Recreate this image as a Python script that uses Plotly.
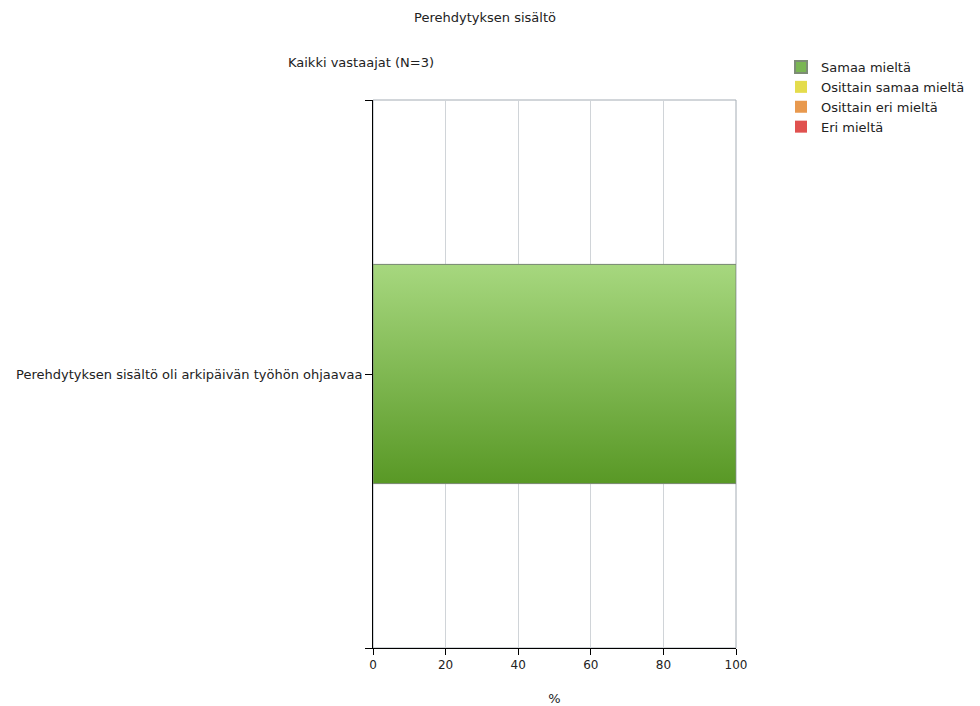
import plotly.graph_objects as go

categories = ["Perehdytyksen sisältö oli arkipäivän työhön ohjaavaa"]
series_names = ["Samaa mieltä", "Osittain samaa mieltä", "Osittain eri mieltä", "Eri mieltä"]
series_values = {
    "Samaa mieltä": [100],
    "Osittain samaa mieltä": [0],
    "Osittain eri mieltä": [0],
    "Eri mieltä": [0],
}
series_colors = ["#7ab653", "#e4dc4c", "#e8994e", "#e0514f"]
x_ticks = [0, 20, 40, 60, 80, 100]

FONT = "Verdana, DejaVu Sans, sans-serif"
bar_half = 0.2

fig = go.Figure()
ypos = list(range(len(categories)))
for name, col in zip(series_names, series_colors):
    vals = series_values[name]
    fig.add_trace(go.Bar(
        name=name, orientation="h", x=vals, y=ypos, width=2 * bar_half,
        marker=dict(color=col, line=dict(color="#7d8c76" if max(vals) > 0 else "rgba(0,0,0,0)", width=1)),
    ))

# gradient overlay for the non-zero segments
for name, col in zip(series_names, series_colors):
    vals = series_values[name]
    for i, v in enumerate(vals):
        if v <= 0:
            continue
        xs = [0, v, v, 0, 0]
        ys = [i - bar_half, i - bar_half, i + bar_half, i + bar_half, i - bar_half]
        fig.add_trace(go.Scatter(
            x=xs, y=ys, mode="lines", fill="toself", showlegend=False, hoverinfo="skip",
            line=dict(color="#7d8c76", width=1),
            fillgradient=dict(type="vertical",
                              colorscale=[[0, "rgba(86,150,34,0.93)"], [1, "rgba(170,218,130,0.93)"]]),
        ))

fig.update_layout(
    width=980, height=706,
    margin=dict(l=373, r=244, t=100, b=58, autoexpand=False),
    paper_bgcolor="white", plot_bgcolor="white",
    barmode="stack",
    font=dict(family=FONT, size=13, color="#222222"),
    title=dict(text="Perehdytyksen sisältö", x=485 / 980, xanchor="center",
               y=1 - 17 / 706, yanchor="middle", font=dict(size=13, family=FONT)),
    legend=dict(x=(781 - 373) / 363, y=(648 - 52) / 548, xanchor="left", yanchor="top",
                traceorder="normal", font=dict(size=13, family=FONT),
                itemsizing="constant", tracegroupgap=0, bgcolor="rgba(0,0,0,0)"),
    annotations=[dict(text="Kaikki vastaajat (N=3)", xref="paper", yref="paper",
                      x=(286 - 373) / 363, y=(648 - 62) / 548, xanchor="left", yanchor="middle",
                      showarrow=False, font=dict(size=13, family=FONT))],
    showlegend=True,
)
fig.update_xaxes(
    range=[0, 100], tickvals=x_ticks, ticks="outside", ticklen=6, tickcolor="#000",
    showgrid=True, gridcolor="#d0d4d8", gridwidth=1,
    showline=True, linecolor="#000", linewidth=1, mirror=False, zeroline=False,
    title=dict(text="%", standoff=22, font=dict(size=13)), tickfont=dict(size=12),
    automargin=False,
)
fig.update_yaxes(
    range=[-0.5, len(categories) - 0.5],
    tickvals=[-0.5] + ypos + [len(categories) - 0.5],
    ticktext=[""] + categories + [""],
    ticks="outside", ticklen=7, tickcolor="#000",
    showgrid=False, showline=True, linecolor="#000", linewidth=1, zeroline=False,
    tickfont=dict(size=13), automargin=False,
)
# gray top/right frame
fig.add_shape(type="rect", xref="paper", yref="paper", x0=0, x1=1, y0=0, y1=1,
              line=dict(color="#a4acb4", width=1), layer="below")
fig.write_html("out.html")
